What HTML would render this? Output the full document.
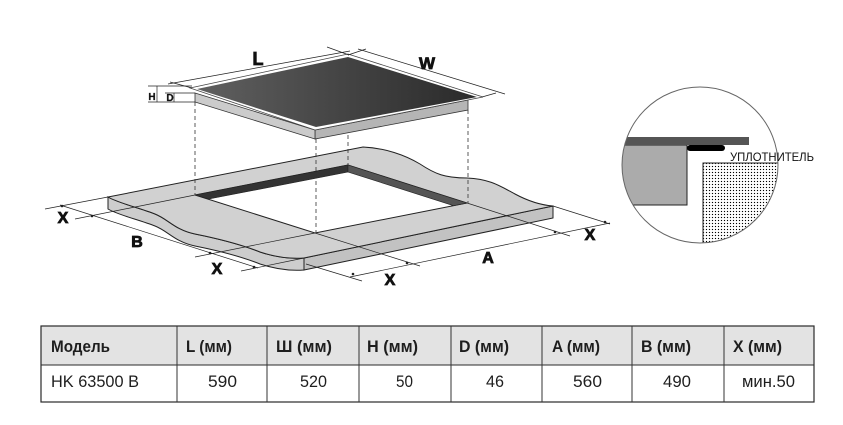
<!DOCTYPE html>
<html><head><meta charset="utf-8">
<style>html,body{margin:0;padding:0;background:#fff;}svg{display:block}</style></head>
<body>
<svg width="843" height="425" viewBox="0 0 843 425" xmlns="http://www.w3.org/2000/svg" font-family="Liberation Sans, sans-serif">
<defs>
<linearGradient id="glass" x1="0" y1="0" x2="1" y2="0">
<stop offset="0" stop-color="#606060"/><stop offset="1" stop-color="#2a2a2a"/>
</linearGradient>
<pattern id="dots" width="3" height="3" patternUnits="userSpaceOnUse"><rect width="3" height="3" fill="#fff"/><circle cx="1.5" cy="1.5" r="0.65" fill="#000"/></pattern>
<clipPath id="cc"><circle cx="700" cy="165" r="78"/></clipPath>
</defs>
<rect width="843" height="425" fill="#fff"/>

<!-- Countertop -->
<path d="M108,197 C118,203 140,208 155,214 C168,219 175,230 195,234 C215,238 240,244 260,252 C275,257 290,259 304,258 L304,270 C290,271 275,269 260,264 C240,256 215,250 195,246 C175,242 168,231 155,226 C140,220 118,215 108,209 Z" fill="#cdcdcd" stroke="#222" stroke-width="1"/>
<path d="M304,258 L553,206 L553,218 L304,270 Z" fill="#c2c2c2" stroke="#222" stroke-width="1"/>
<path d="M108,197 L363,147 C385,148 405,155 420,164 C435,174 445,178 467,178 C490,179 500,186 515,194 C528,201 540,205 553,206 L304,258 C290,259 275,257 260,252 C240,244 215,238 195,234 C175,230 168,219 155,214 C140,208 118,203 108,197 Z" fill="#d1d1d1" stroke="#222" stroke-width="1"/>
<polygon points="195,195 348,165 467,203 315,233" fill="#fff" stroke="#222" stroke-width="1"/>
<polygon points="195,195 348,165 348,172 209,199" fill="#333" stroke="#222" stroke-width="0.6"/>
<polygon points="348,165 467,203 453.5,205.7 348,172" fill="#555" stroke="#222" stroke-width="0.6"/>

<!-- extension lines -->
<g stroke="#222" stroke-width="0.7" fill="none">
<line x1="108" y1="197" x2="45" y2="209"/>
<line x1="195" y1="195" x2="75" y2="219"/>
<line x1="315" y1="233" x2="195" y2="257"/>
<line x1="304" y1="258" x2="241" y2="271"/>
<line x1="315" y1="233" x2="420" y2="266"/>
<line x1="467" y1="203" x2="570" y2="236"/>
<line x1="306" y1="264" x2="362" y2="281"/>
<line x1="553" y1="206" x2="610" y2="224"/>
<line x1="60" y1="205" x2="258" y2="268"/>
<line x1="350" y1="277" x2="610" y2="223"/>
</g>
<g fill="#222">
<circle cx="62" cy="206" r="1.3"/><circle cx="92" cy="216" r="1.3"/><circle cx="210" cy="253" r="1.3"/><circle cx="254" cy="267" r="1.3"/>
<circle cx="353" cy="274" r="1.3"/><circle cx="407" cy="263" r="1.3"/><circle cx="555" cy="232" r="1.3"/><circle cx="605" cy="222" r="1.3"/>
</g>

<!-- dashed verticals -->
<g stroke="#333" stroke-width="0.8" stroke-dasharray="4 3" fill="none">
<line x1="195" y1="102" x2="195" y2="195"/>
<line x1="316" y1="139" x2="316" y2="233"/>
<line x1="348" y1="135" x2="348" y2="165"/>
<line x1="468" y1="110" x2="468" y2="203"/>
</g>

<!-- Hob -->
<polygon points="315,130 468,100 468,110 315,139" fill="#b5b5b5" stroke="#333" stroke-width="0.8"/>
<polygon points="195,93 315,130 315,139 195,102" fill="#cbcbcb" stroke="#333" stroke-width="0.8"/>
<polygon points="190,88 348,54 483,97 315,130" fill="#fff" stroke="#444" stroke-width="0.8"/>
<polygon points="197,89 348,57 477,97 316,127" fill="url(#glass)"/>

<!-- L / W dims -->
<g stroke="#222" stroke-width="0.7" fill="none">
<line x1="168" y1="84" x2="350" y2="51"/>
<line x1="192" y1="88" x2="170" y2="82"/>
<line x1="327" y1="47" x2="349" y2="55"/>
<line x1="358" y1="49" x2="505" y2="94"/>
<line x1="348" y1="55" x2="366" y2="49"/>
<line x1="482" y1="97" x2="496" y2="93"/>
<line x1="148" y1="86" x2="192" y2="86"/>
<line x1="165" y1="93" x2="195" y2="93"/>
<line x1="148" y1="102" x2="195" y2="102"/>
<line x1="157" y1="86" x2="157" y2="102"/>
<line x1="174" y1="93" x2="174" y2="102"/>
</g>
<g font-weight="bold" fill="#111" stroke="#111" stroke-width="0.8" text-anchor="middle">
<text x="258" y="65" font-size="18">L</text>
<text x="427" y="69" font-size="17">W</text>
<text x="63" y="223" font-size="16">X</text>
<text x="137" y="247" font-size="16">B</text>
<text x="217" y="274" font-size="16">X</text>
<text x="390" y="285" font-size="16">X</text>
<text x="488" y="263" font-size="16">A</text>
<text x="590" y="240" font-size="16">X</text>
</g>
<g font-weight="bold" fill="#111" stroke="#111" stroke-width="0.3" font-size="10" text-anchor="middle">
<text x="152" y="100">H</text>
<text x="170" y="101">D</text>
</g>

<!-- Detail circle -->
<g clip-path="url(#cc)">
<rect x="600" y="145" width="87" height="60" fill="#ababab" stroke="#222" stroke-width="1"/>
<rect x="600" y="137" width="149" height="8" fill="#555"/>
<rect x="703" y="163" width="100" height="100" fill="url(#dots)" stroke="#222" stroke-width="1"/>
</g>
<rect x="687" y="145" width="38" height="6" rx="3" fill="#000"/>
<circle cx="700" cy="165" r="78" fill="none" stroke="#666" stroke-width="1"/>
<text x="730" y="161" font-size="12" fill="#111" textLength="84" lengthAdjust="spacingAndGlyphs">УПЛОТНИТЕЛЬ</text>

<!-- Table -->
<rect x="41" y="326" width="773" height="39" fill="#e3e3e3"/>
<rect x="41" y="326" width="773" height="76" fill="none" stroke="#2a2a2a" stroke-width="1.2"/>
<line x1="41" y1="365" x2="814" y2="365" stroke="#2a2a2a" stroke-width="1"/>
<g stroke="#333" stroke-width="1">
<line x1="177" y1="326" x2="177" y2="402"/>
<line x1="267" y1="326" x2="267" y2="402"/>
<line x1="359" y1="326" x2="359" y2="402"/>
<line x1="451" y1="326" x2="451" y2="402"/>
<line x1="542" y1="326" x2="542" y2="402"/>
<line x1="632" y1="326" x2="632" y2="402"/>
<line x1="724" y1="326" x2="724" y2="402"/>
</g>
<g font-weight="bold" font-size="17" fill="#1e1e1e">
<text x="51" y="352" textLength="59" lengthAdjust="spacingAndGlyphs">Модель</text>
<text x="186" y="352" textLength="46" lengthAdjust="spacingAndGlyphs">L (мм)</text>
<text x="276" y="352" textLength="56" lengthAdjust="spacingAndGlyphs">Ш (мм)</text>
<text x="367" y="352" textLength="51" lengthAdjust="spacingAndGlyphs">H (мм)</text>
<text x="459" y="352" textLength="50" lengthAdjust="spacingAndGlyphs">D (мм)</text>
<text x="552" y="352" textLength="48" lengthAdjust="spacingAndGlyphs">A (мм)</text>
<text x="641" y="352" textLength="50" lengthAdjust="spacingAndGlyphs">B (мм)</text>
<text x="733" y="352" textLength="49" lengthAdjust="spacingAndGlyphs">X (мм)</text>
</g>
<g font-size="17" fill="#1e1e1e">
<text x="51" y="387" textLength="88" lengthAdjust="spacingAndGlyphs">HK 63500 B</text>
<text x="208" y="387" textLength="29" lengthAdjust="spacingAndGlyphs">590</text>
<text x="300" y="387" textLength="27" lengthAdjust="spacingAndGlyphs">520</text>
<text x="396" y="387" textLength="17" lengthAdjust="spacingAndGlyphs">50</text>
<text x="486" y="387" textLength="18" lengthAdjust="spacingAndGlyphs">46</text>
<text x="573" y="387" textLength="29" lengthAdjust="spacingAndGlyphs">560</text>
<text x="663" y="387" textLength="28" lengthAdjust="spacingAndGlyphs">490</text>
<text x="742" y="387" textLength="53" lengthAdjust="spacingAndGlyphs">мин.50</text>
</g>
</svg>
</body></html>
